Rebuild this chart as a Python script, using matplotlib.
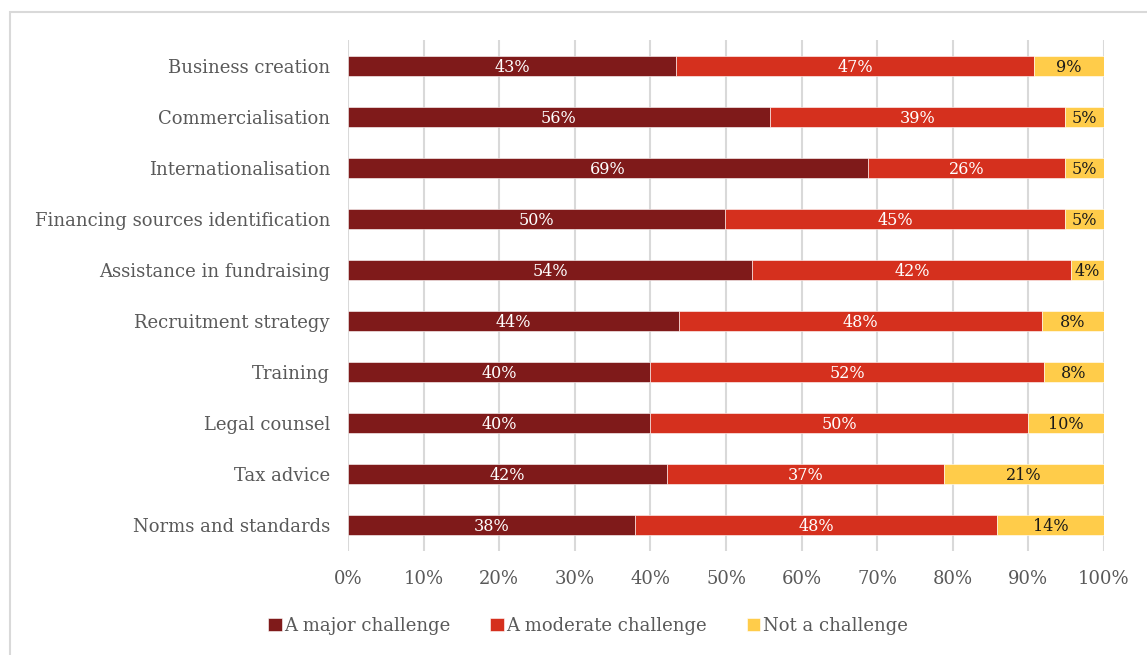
import matplotlib
matplotlib.use("Agg")
import matplotlib.pyplot as plt
from matplotlib.patches import Rectangle
from matplotlib.ticker import PercentFormatter

categories = [
    "Business creation",
    "Commercialisation",
    "Internationalisation",
    "Financing sources identification",
    "Assistance in fundraising",
    "Recruitment strategy",
    "Training",
    "Legal counsel",
    "Tax advice",
    "Norms and standards",
]
major = [43.4, 55.8, 68.8, 49.9, 53.5, 43.8, 40.0, 40.0, 42.2, 38.0]
moderate = [47.3, 39.0, 26.0, 44.9, 42.2, 48.0, 52.0, 50.0, 36.6, 47.9]
not_challenge = [9.3, 5.2, 5.2, 5.2, 4.3, 8.2, 8.0, 10.0, 21.2, 14.1]
series_names = ["A major challenge", "A moderate challenge", "Not a challenge"]
xticks = [0, 10, 20, 30, 40, 50, 60, 70, 80, 90, 100]

colors = ["#7F1A1A", "#D5301E", "#FFCC4A"]
label_colors = ["white", "white", "#1a1a1a"]
text_gray = "#595959"

plt.rcParams["font.family"] = ["DejaVu Serif"]

W, H = 1147, 655
fig = plt.figure(figsize=(W / 100, H / 100), dpi=100)
fig.patch.set_facecolor("white")

# outer chart-area frame (left and top edges visible)
fig.add_artist(Rectangle((9.5 / W, -0.1), 1.2, 1 - 12.5 / H + 0.1,
                         transform=fig.transFigure, fill=False,
                         edgecolor="#D9D9D9", linewidth=1.5, clip_on=False))

ax = fig.add_axes([348 / W, 1 - 551 / H, (1104 - 348) / W, (551 - 40) / H])

y = list(range(len(categories)))
left = [0.0] * len(categories)
for vals, name, col, lc in zip([major, moderate, not_challenge], series_names, colors, label_colors):
    bars = ax.barh(y, vals, left=left, height=0.39, color=col, label=name,
                   edgecolor="white", linewidth=0.4, zorder=3)
    for b, v, l in zip(bars, vals, left):
        ax.text(l + v / 2, b.get_y() + b.get_height() / 2 + 0.03, f"{v:.0f}%",
                ha="center", va="center", color=lc, fontsize=11.5, zorder=4)
    left = [a + b for a, b in zip(left, vals)]

ax.set_xlim(0, 100)
ax.set_ylim(len(categories) - 0.5, -0.5)
ax.set_yticks(y)
ax.set_yticklabels(categories, fontsize=13, color=text_gray)
ax.set_xticks(xticks)
ax.xaxis.set_major_formatter(PercentFormatter(decimals=0))
ax.tick_params(axis="x", labelsize=13, labelcolor=text_gray, length=0, pad=14)
ax.tick_params(axis="y", length=0, pad=13)
ax.grid(axis="x", color="#D9D9D9", linewidth=1.5, zorder=0)
for s in ax.spines.values():
    s.set_visible(False)

fig.legend(loc="center", bbox_to_anchor=(588 / W, 1 - 626 / H), ncol=3,
           frameon=False, fontsize=13, labelcolor=text_gray,
           handlelength=0.75, handleheight=0.75, handletextpad=0.15,
           columnspacing=2.2)

fig.savefig("out.png", dpi=100)
